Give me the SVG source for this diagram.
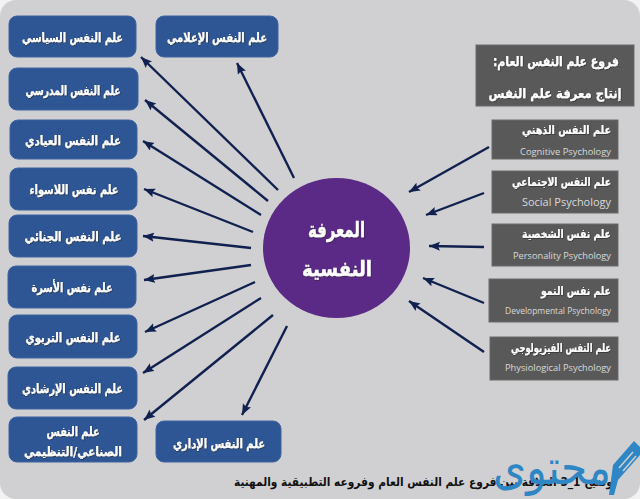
<svg xmlns="http://www.w3.org/2000/svg" width="640" height="499" viewBox="0 0 640 499">
<style>
text{font-family:"DejaVu Sans",sans-serif;font-weight:bold;direction:rtl;unicode-bidi:plaintext}
.b{fill:#2f5694;stroke:#3d639f;stroke-width:1}
.g{fill:#595959;stroke:#6a6a6a;stroke-width:1}
.l{fill:#fff;stroke:#fff;stroke-width:.25;font-size:13px;text-anchor:middle;filter:url(#s)}
.h{fill:#fff;stroke:#fff;stroke-width:.25;font-size:13.5px;text-anchor:middle;filter:url(#s)}
.a{fill:#fff;stroke:#fff;stroke-width:.2;font-size:12px;text-anchor:start;filter:url(#s)}
.e{fill:#d9d9d9;font-family:"Open Sans",sans-serif;font-weight:normal;font-size:9px;text-anchor:end;direction:ltr}
.c{fill:#fff;stroke:#fff;stroke-width:.4;font-size:21px;text-anchor:middle;filter:url(#s)}
#connectors line{stroke:#10204f;stroke-width:2.4;marker-end:url(#m)}
</style>
<defs>
<marker id="m" markerUnits="userSpaceOnUse" markerWidth="12" markerHeight="10" refX="11" refY="4.5" orient="auto"><path d="M0 0L11 4.5L0 9L2 4.5Z" fill="#10204f"/></marker>
<filter id="s" x="-5%" y="-20%" width="110%" height="140%"><feDropShadow dx="0.6" dy="0.8" stdDeviation="0.5" flood-color="#222" flood-opacity="0.7"/></filter>
</defs>
<rect width="640" height="499" fill="#f2f2f2"/>
<rect x="0" y="0" width="640" height="499" rx="16" fill="#d0d0d2"/>

<g id="connectors">
<line x1="294" y1="178" x2="237" y2="63"/>
<line x1="278" y1="190" x2="141" y2="57"/>
<line x1="268" y1="201" x2="145" y2="100"/>
<line x1="261" y1="215" x2="143" y2="141"/>
<line x1="253" y1="232" x2="144" y2="189"/>
<line x1="251" y1="248" x2="143" y2="236"/>
<line x1="251" y1="265" x2="144" y2="280"/>
<line x1="255" y1="282" x2="145" y2="332"/>
<line x1="261" y1="298" x2="143" y2="373"/>
<line x1="273" y1="315" x2="144" y2="420"/>
<line x1="287" y1="326" x2="242" y2="415"/>
<line x1="489" y1="147" x2="409" y2="192"/>
<line x1="484" y1="193" x2="426" y2="215"/>
<line x1="484" y1="247" x2="429" y2="246"/>
<line x1="484" y1="303" x2="423" y2="278"/>
<line x1="484" y1="352" x2="409" y2="301"/>
</g>

<g id="n1"><rect class="b" x="9" y="16" width="127" height="41" rx="8"/><text class="l" x="72.5" y="42" textLength="101" lengthAdjust="spacingAndGlyphs">علم النفس السياسي</text></g>
<g id="n2"><rect class="b" x="9" y="68" width="129" height="42" rx="8"/><text class="l" x="73" y="95" textLength="95" lengthAdjust="spacingAndGlyphs">علم النفس المدرسي</text></g>
<g id="n3"><rect class="b" x="10" y="120" width="127" height="39" rx="8"/><text class="l" x="73" y="145" textLength="96" lengthAdjust="spacingAndGlyphs">علم النفس العيادي</text></g>
<g id="n4"><rect class="b" x="10" y="168" width="127" height="42" rx="8"/><text class="l" x="74" y="194" textLength="89" lengthAdjust="spacingAndGlyphs">علم نفس اللاسواء</text></g>
<g id="n5"><rect class="b" x="9" y="215" width="128" height="42" rx="8"/><text class="l" x="73" y="241" textLength="97" lengthAdjust="spacingAndGlyphs">علم النفس الجنائي</text></g>
<g id="n6"><rect class="b" x="8" y="266" width="128" height="42" rx="8"/><text class="l" x="72" y="292" textLength="81" lengthAdjust="spacingAndGlyphs">علم نفس الأسرة</text></g>
<g id="n7"><rect class="b" x="9" y="315" width="128" height="43" rx="8"/><text class="l" x="73" y="342" textLength="95" lengthAdjust="spacingAndGlyphs">علم النفس التربوي</text></g>
<g id="n8"><rect class="b" x="8" y="367" width="129" height="42" rx="8"/><text class="l" x="72.5" y="393" textLength="101" lengthAdjust="spacingAndGlyphs">علم النفس الإرشادي</text></g>
<g id="n9"><rect class="b" x="9" y="417" width="128" height="45" rx="8"/><text class="l" x="73" y="436" textLength="53" lengthAdjust="spacingAndGlyphs">علم النفس</text><text class="l" x="73" y="456" textLength="98" lengthAdjust="spacingAndGlyphs">الصناعي/التنظيمي</text></g>
<g id="n10"><rect class="b" x="156" y="16" width="122" height="41" rx="8"/><text class="l" x="217" y="42" textLength="100" lengthAdjust="spacingAndGlyphs">علم النفس الإعلامي</text></g>
<g id="n11"><rect class="b" x="156" y="421" width="125" height="41" rx="8"/><text class="l" x="219" y="448" textLength="92" lengthAdjust="spacingAndGlyphs">علم النفس الإداري</text></g>

<g id="center"><ellipse cx="336.5" cy="248" rx="73.5" ry="70" fill="#5b2a86"/><text class="c" x="336.5" y="237" textLength="57" lengthAdjust="spacingAndGlyphs">المعرفة</text><text class="c" x="337" y="276" textLength="70" lengthAdjust="spacingAndGlyphs">النفسية</text></g>

<g id="header"><rect class="g" x="476" y="45" width="158" height="61"/><text class="h" x="556" y="66" textLength="126" lengthAdjust="spacingAndGlyphs">فروع علم النفس العام:</text><text class="h" x="555" y="98" textLength="133" lengthAdjust="spacingAndGlyphs">إنتاج معرفة علم النفس</text></g>

<g id="r1"><rect class="g" x="492" y="120" width="126" height="39"/><text class="a" x="611" y="134" textLength="89" lengthAdjust="spacingAndGlyphs">علم النفس الذهني</text><text class="e" x="611" y="155" textLength="91" lengthAdjust="spacingAndGlyphs">Cognitive Psychology</text></g>
<g id="r2"><rect class="g" x="492" y="171" width="126" height="42"/><text class="a" x="611" y="186" textLength="99" lengthAdjust="spacingAndGlyphs">علم النفس الاجتماعي</text><text class="e" x="611" y="206" style="font-size:10px" textLength="89" lengthAdjust="spacingAndGlyphs">Social Psychology</text></g>
<g id="r3"><rect class="g" x="492" y="224" width="126" height="42"/><text class="a" x="611" y="238" textLength="89" lengthAdjust="spacingAndGlyphs">علم نفس الشخصية</text><text class="e" x="611" y="259" textLength="98" lengthAdjust="spacingAndGlyphs">Personality Psychology</text></g>
<g id="r4"><rect class="g" x="489" y="279" width="129" height="43"/><text class="a" x="611" y="295" textLength="70" lengthAdjust="spacingAndGlyphs">علم نفس النمو</text><text class="e" x="611" y="314" textLength="106" lengthAdjust="spacingAndGlyphs">Developmental Psychology</text></g>
<g id="r5"><rect class="g" x="490" y="337" width="128" height="43"/><text class="a" x="611" y="352" textLength="100" lengthAdjust="spacingAndGlyphs">علم النفس الفيزيولوجي</text><text class="e" x="611" y="371" textLength="106" lengthAdjust="spacingAndGlyphs">Physiological Psychology</text></g>

<text x="617" y="486" style="fill:#111;font-size:12px;text-anchor:start" textLength="383" lengthAdjust="spacingAndGlyphs">توضيح 1_3 العلاقة بين فروع علم النفس العام وفروعه التطبيقية والمهنية</text>

<g id="logo">
<text x="611" y="484" style="fill:#2f86c5;font-size:48px;text-anchor:start;font-weight:normal" textLength="118" lengthAdjust="spacingAndGlyphs">محتوى</text>
<path d="M609 495L613 465L634 441L640 447L640 455L618 480L614 495Z" fill="#2f86c5"/>
<path d="M619 468L633 452M623 471L636 456" stroke="#d0d0d2" stroke-width="1.5" fill="none"/>
</g>
</svg>
